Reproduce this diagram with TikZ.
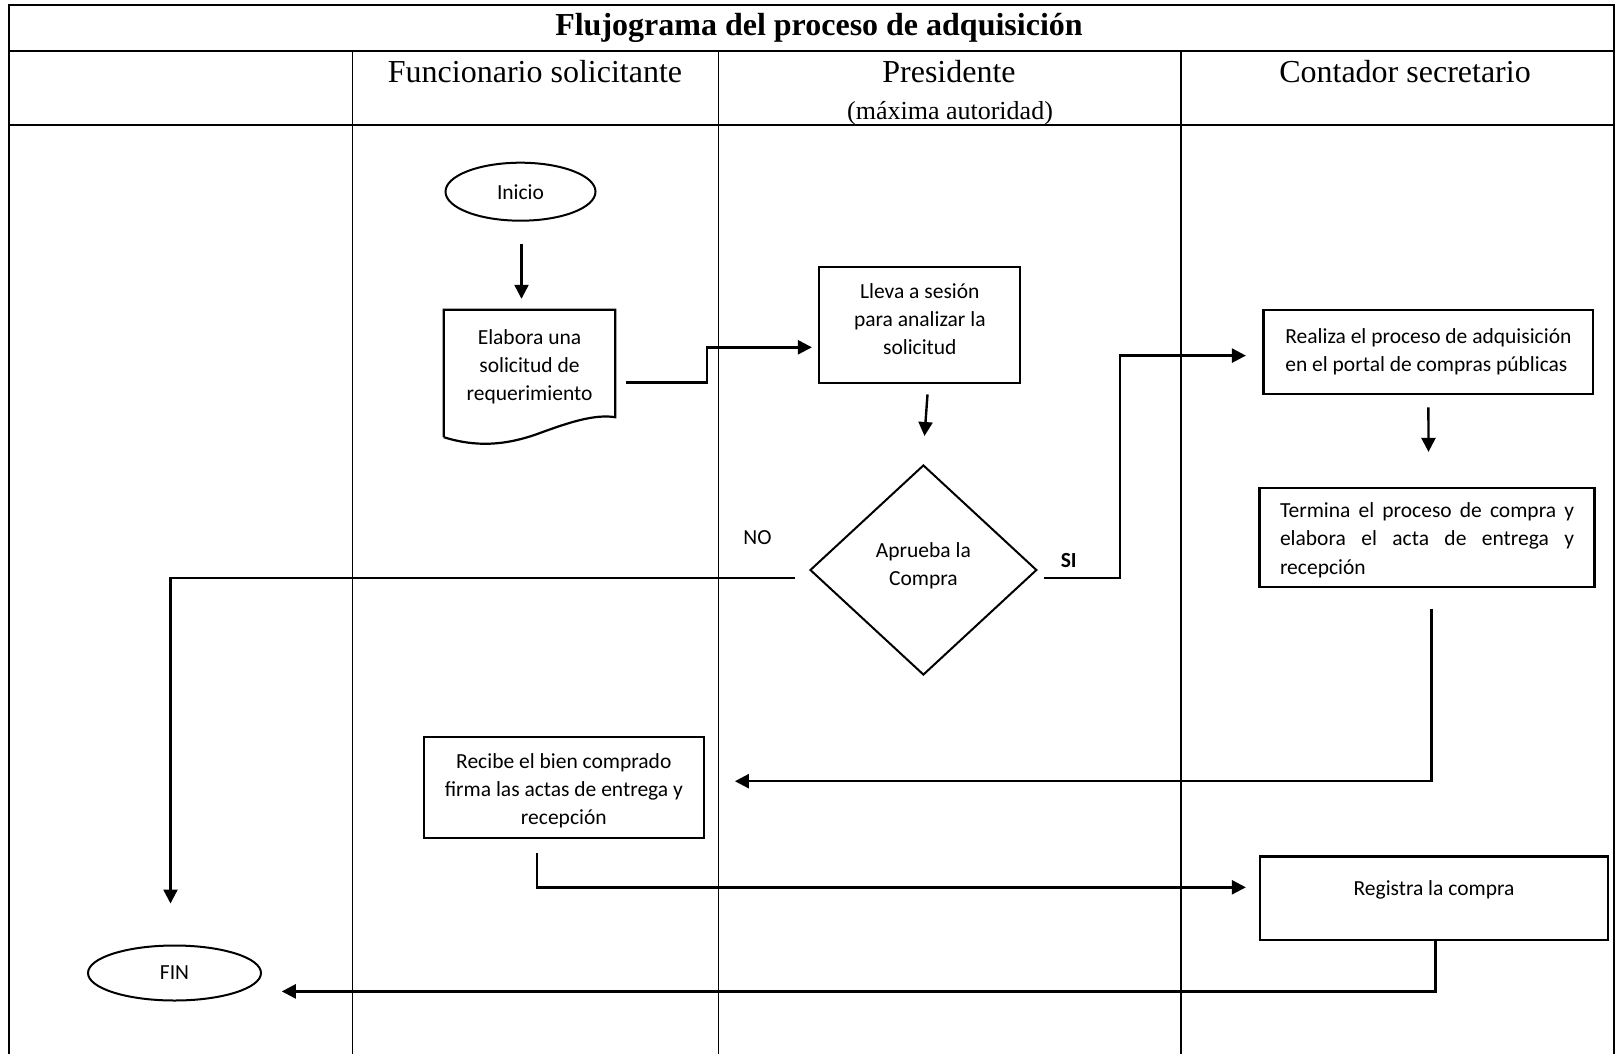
\documentclass[tikz,border=0pt]{standalone}
\usepackage{fontspec}
\setmainfont{Liberation Serif}
\newfontfamily\calfont{Carlito}
\usetikzlibrary{shapes.geometric,arrows.meta,calc}

\newcommand{\justline}[1]{\hbox to 294pt{#1}}

\begin{document}
\begin{tikzpicture}[x=1pt,y=-1pt,
  frame/.style={line width=2.2pt},
  lane/.style={line width=1.5pt},
  nodefont/.style={font=\calfont\fontsize{21.5}{28.3}\selectfont},
  box/.style={draw,line width=2.2pt,rectangle,inner sep=0pt,nodefont,align=center},
  term/.style={draw,ellipse,line width=2pt,inner sep=0pt,nodefont},
  flow/.style={line width=2.4pt},
  arr/.style={flow,-{Triangle[length=14pt,width=14pt]}},
  lbl/.style={nodefont,inner sep=0pt},
  head/.style={font=\fontsize{32}{36}\selectfont,inner sep=0pt}
]
\useasboundingbox (0,0) rectangle (1616,1054);

% table frame and swimlanes
\draw[frame] (9,1060) -- (9,5) -- (1614,5) -- (1614,1060);
\draw[frame] (9,51) -- (1614,51);
\draw[frame] (9,125) -- (1614,125);
\foreach \x in {352.5,718.3,1181} \draw[lane] (\x,51) -- (\x,1060);

% headings
\node[head,font=\bfseries\fontsize{32}{36}\selectfont] (title) at (819,28) {Flujograma del proceso de adquisición};
\node[head] (h1) at (535,72) {Funcionario solicitante};
\node[head] (h2) at (949,72) {Presidente};
\node[head,font=\fontsize{26}{30}\selectfont] (h2b) at (950,113) {(máxima autoridad)};
\node[head] (h3) at (1405,72) {Contador secretario};

% flow elements
\node[term,minimum width=150pt,minimum height=58pt] (inicio) at (520.5,191.7) {Inicio};
\node[nodefont,align=center,inner sep=0pt,minimum width=171pt,minimum height=107pt,text height=78pt] (doc) at (529.5,363.5)
  {Elabora una\\solicitud de\\requerimiento};
\draw[line width=2.2pt] ($(doc.south west)+(0,20)$) -- (doc.north west) -- (doc.north east) -- (doc.south east)
  .. controls (595,414) and (570,422) .. (540,433)
  .. controls (505,446) and (475,447) .. ($(doc.south west)+(0,20)$);
\node[box,minimum width=201pt,minimum height=116pt,text depth=12pt] (lleva) at (919.8,325)
  {Lleva a sesión\\para analizar la\\solicitud};
\node[diamond,draw,line width=2pt,inner sep=0pt,nodefont,align=center,minimum width=226.8pt,minimum height=210pt,text depth=12pt]
  (dec) at (923.4,570) {Aprueba la\\Compra};
\node[box,align=left,minimum width=329.8pt,minimum height=84pt] (realiza) at (1428.4,352)
  {Realiza el proceso de adquisición\\en el portal de compras públicas};
\node[box,align=left,minimum width=334.9pt,minimum height=99pt,text height=77pt] (termina) at (1427,537.5)
  {\justline{Termina\hfill el\hfill proceso\hfill de\hfill compra\hfill y}\\
   \justline{elabora\hfill el\hfill acta\hfill de\hfill entrega\hfill y}\\
   recepción};
\node[box,minimum width=280.4pt,minimum height=101pt,text height=78pt] (recibe) at (563.8,787.5)
  {Recibe el bien comprado\\firma las actas de entrega y\\recepción};
\node[box,minimum width=347.3pt,minimum height=83.6pt,text depth=21pt] (registra) at (1434,898.2) {Registra la compra};
\node[term,minimum width=173pt,minimum height=55pt] (fin) at (174.5,973) {FIN};

% branch labels
\node[lbl] (no) at (757.5,538) {NO};
\node[lbl,font=\calfont\bfseries\fontsize{21.5}{26}\selectfont] (si) at (1068.7,561) {SI};

% connector end points
\coordinate (a1) at ($(inicio.south)+(1,22)$);
\coordinate (a2) at ($(doc.north)+(-8,-11)$);
\coordinate (b1) at ($(doc.east)+(10.6,18.8)$);
\coordinate (b2) at ($(lleva.west)+(-6.3,22.3)$);
\coordinate (c1) at ($(lleva.south)+(7.7,10.3)$);
\coordinate (c2) at ($(dec.north)+(1.1,-28)$);
\coordinate (n1) at ($(dec.west)+(-14.4,8.2)$);
\coordinate (n2) at ($(fin.north)+(-4,-41)$);
\coordinate (s1) at ($(dec.east)+(6.2,8.2)$);
\coordinate (s2) at ($(realiza.west)+(-16.5,3.6)$);
\coordinate (d1) at ($(realiza.south)+(0,12.3)$);
\coordinate (d2) at ($(termina.north)+(1.5,-35)$);
\coordinate (t1) at ($(termina.south)+(4.6,20.6)$);
\coordinate (t2) at ($(recibe.east)+(29.8,-6.3)$);
\coordinate (r1) at ($(recibe.south)+(-26.8,14.3)$);
\coordinate (r2) at ($(registra.west)+(-13.4,-10.9)$);
\coordinate (g1) at ($(registra.south)+(1.6,0)$);
\coordinate (g2) at ($(fin.east)+(19.8,18.4)$);

% connectors
\draw[arr] (a1) -- (a2);
\draw[arr] (b1) -- ++(81.4,0) |- (b2);
\draw[arr] (c1) -- (c2);
\draw[arr] (n1) -| (n2);
\draw[arr] (s1) -- ++(76.2,0) |- (s2);
\draw[arr] (d1) -- (d2);
\draw[arr] (t1) |- (t2);
\draw[arr] (r1) |- (r2);
\draw[arr] (g1) |- (g2);
\end{tikzpicture}
\end{document}
